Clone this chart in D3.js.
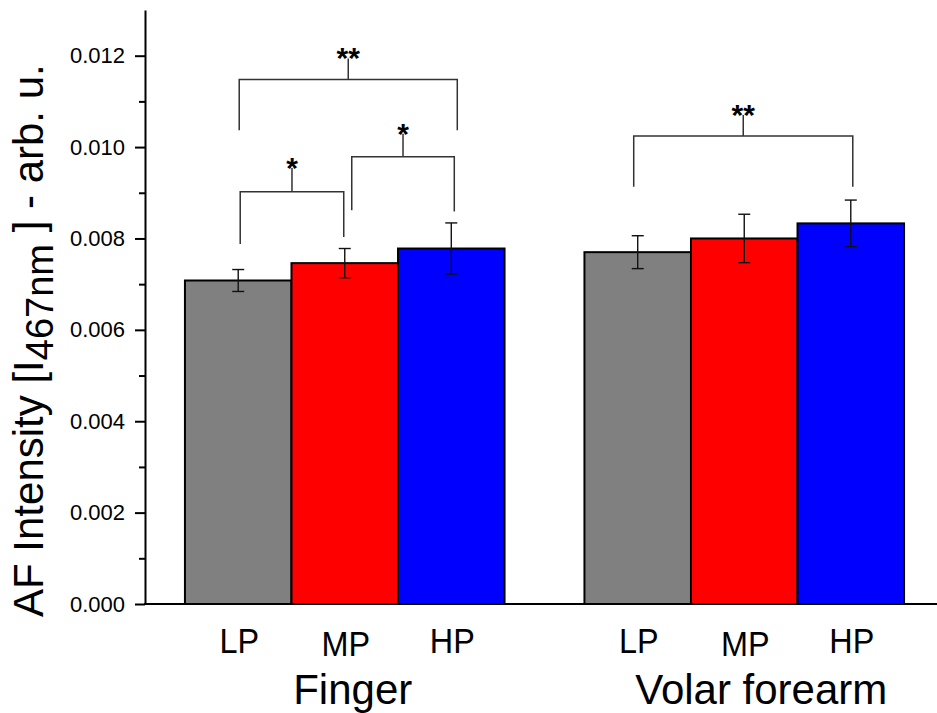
<!DOCTYPE html>
<html>
<head>
<meta charset="utf-8">
<script src="https://cdn.jsdelivr.net/npm/d3@7"></script>
<style>
  body { margin: 0; background: #fff; }
  text { font-family: Arial, "Liberation Sans", sans-serif; }
</style>
</head>
<body>
<div id="chart"></div>
<script>
// AF intensity bar chart, Finger vs Volar forearm

const groups = ['Finger', 'Volar forearm'];
const levels = ['LP', 'MP', 'HP'];
const barColors = ['#808080', '#ff0000', '#0000ff'];

// means and standard errors, one row per group (LP, MP, HP)
const means = [
    [0.00708, 0.00746, 0.00778],
    [0.00770, 0.00800, 0.00833]
];
const errors = [
    [0.00024, 0.00032, 0.00056],
    [0.00036, 0.00053, 0.00051]
];

const yTicks = [0, 0.002, 0.004, 0.006, 0.008, 0.010, 0.012];
const yMinorTicks = [0.001, 0.003, 0.005, 0.007, 0.009, 0.011];

// significance brackets: group, from level, to level, bar height, leg ends, stem top
const brackets = [
    { group: 'Finger', from: 'LP', to: 'MP', top: 0.00902, endA: 0.00788, endB: 0.00803, stem: 0.00954, label: '*', dxA: 2, dxB: -1 },
    { group: 'Finger', from: 'MP', to: 'HP', top: 0.00979, endA: 0.00862, endB: 0.00859, stem: 0.01029, label: '*', dxA: 7, dxB: 3 },
    { group: 'Finger', from: 'LP', to: 'HP', top: 0.01148, endA: 0.01037, endB: 0.01037, stem: 0.01194, label: '**', dxA: 1, dxB: 6 },
    { group: 'Volar forearm', from: 'LP', to: 'HP', top: 0.01024, endA: 0.00913, endB: 0.00913, stem: 0.01070, label: '**', dxA: -4, dxB: 2 }
];

const width = 937, height = 713;
const axisX = 145, axisY = 604, axisTop = 10;

const svg = d3.select('#chart')
    .append('svg')
    .attr('width', width)
    .attr('height', height);

const y = d3.scaleLinear()
    .domain([0, 0.013])
    .range([axisY, axisTop]);

const x0 = d3.scaleBand()
    .domain(groups)
    .range([axisX, 944])
    .paddingInner(0.2)
    .paddingOuter(0.1);

const x1 = d3.scaleBand()
    .domain(levels)
    .range([0, x0.bandwidth()]);

const color = d3.scaleOrdinal().domain(levels).range(barColors);

const rows = [];
groups.forEach((g, gi) => {
    levels.forEach((l, li) => {
        rows.push({ group: g, level: l, value: means[gi][li], err: errors[gi][li] });
    });
});

const cx = (g, l) => x0(g) + x1(l) + x1.bandwidth() / 2;

// bars
svg.append('g')
    .selectAll('rect')
    .data(rows)
    .join('rect')
    .attr('x', d => x0(d.group) + x1(d.level))
    .attr('y', d => y(d.value))
    .attr('width', x1.bandwidth())
    .attr('height', d => y(0) - y(d.value))
    .attr('fill', d => color(d.level))
    .attr('stroke', '#000')
    .attr('stroke-width', 2);

// error bars
const eb = svg.append('g')
    .attr('stroke', '#111')
    .attr('stroke-width', 1.4);

eb.selectAll('line.v')
    .data(rows)
    .join('line')
    .attr('class', 'v')
    .attr('x1', d => cx(d.group, d.level))
    .attr('x2', d => cx(d.group, d.level))
    .attr('y1', d => y(d.value - d.err))
    .attr('y2', d => y(d.value + d.err));

['hi', 'lo'].forEach(k => {
    eb.selectAll('line.' + k)
        .data(rows)
        .join('line')
        .attr('class', k)
        .attr('x1', d => cx(d.group, d.level) - 6)
        .attr('x2', d => cx(d.group, d.level) + 6)
        .attr('y1', d => y(k === 'hi' ? d.value + d.err : d.value - d.err))
        .attr('y2', d => y(k === 'hi' ? d.value + d.err : d.value - d.err));
});

// significance brackets
const br = svg.append('g');
brackets.forEach(b => {
    const xa = cx(b.group, b.from) + b.dxA;
    const xb = cx(b.group, b.to) + b.dxB;
    const xm = (xa + xb) / 2;
    br.append('path')
        .attr('d', `M${xa},${y(b.endA)}V${y(b.top)}H${xb}V${y(b.endB)}M${xm},${y(b.top)}V${y(b.stem)}`)
        .attr('fill', 'none')
        .attr('stroke', '#333')
        .attr('stroke-width', 1.5);
    br.append('text')
        .attr('x', xm)
        .attr('y', y(b.stem) + 10)
        .attr('text-anchor', 'middle')
        .attr('font-size', 30)
        .attr('font-weight', 'bold')
        .text(b.label);
});

// y axis
const yAxis = svg.append('g')
    .attr('transform', `translate(${axisX},0)`)
    .call(d3.axisLeft(y)
        .tickValues(yTicks)
        .tickFormat(d3.format('.3f'))
        .tickSize(10)
        .tickSizeOuter(0)
        .tickPadding(10));

yAxis.select('.domain').attr('stroke-width', 2);
yAxis.selectAll('.tick line').attr('stroke-width', 2);
yAxis.selectAll('.tick text')
    .attr('font-size', 22)
    .attr('font-family', 'Arial, "Liberation Sans", sans-serif');

const yMinor = svg.append('g')
    .attr('transform', `translate(${axisX},0)`)
    .call(d3.axisLeft(y)
        .tickValues(yMinorTicks)
        .tickFormat('')
        .tickSize(6)
        .tickSizeOuter(0));
yMinor.select('.domain').remove();
yMinor.selectAll('.tick line').attr('stroke-width', 2);

// x axis line
svg.append('line')
    .attr('x1', axisX - 1)
    .attr('x2', width)
    .attr('y1', axisY)
    .attr('y2', axisY)
    .attr('stroke', '#000')
    .attr('stroke-width', 2);

// level labels
svg.append('g')
    .selectAll('text')
    .data(rows)
    .join('text')
    .attr('transform', d => `translate(${cx(d.group, d.level) + 1},${d.level === 'MP' ? 656 : 653}) scale(0.9,1)`)
    .attr('text-anchor', 'middle')
    .attr('font-size', 36)
    .text(d => d.level);

// group labels
svg.append('g')
    .selectAll('text')
    .data(groups)
    .join('text')
    .attr('x', (g, i) => x0(g) + x0.bandwidth() / 2 + (i === 0 ? 8 : 17))
    .attr('y', 704)
    .attr('text-anchor', 'middle')
    .attr('font-size', 42)
    .text(g => g);

// y axis title with subscript
const yTitle = svg.append('text')
    .attr('transform', 'translate(43,617) rotate(-90)')
    .attr('text-anchor', 'start')
    .attr('font-size', 42);
yTitle.append('tspan').text('AF Intensity [I');
yTitle.append('tspan').attr('dy', 10).attr('font-size', 38).text('467nm');
yTitle.append('tspan').attr('dy', -10).text(' ] - arb. u.');
</script>
</body>
</html>
